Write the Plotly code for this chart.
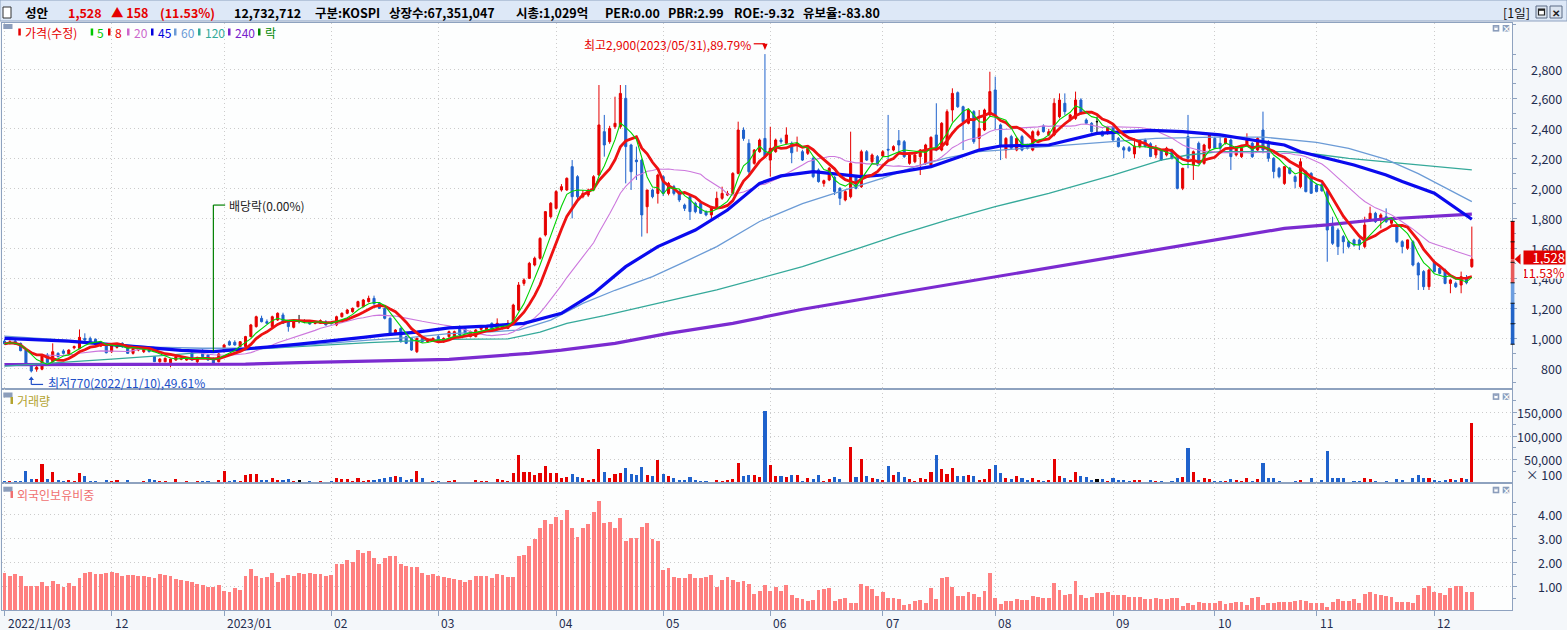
import numpy as np
import pandas as pd
import plotly.graph_objects as go

# figure / plot-area geometry (px)
W, H = 1567, 630
L, R, T, B = 2, 55, 23, 20
FONT = "Noto Sans CJK KR"
RED, BLUE, BORDER = "#e60000", "#1f62cc", "#8ea2bf"

# trading calendar (KRX holidays inside the range)
holidays = pd.to_datetime(["2022-12-30", "2023-01-23", "2023-01-24", "2023-03-01",
                           "2023-05-01", "2023-05-05", "2023-05-29", "2023-06-06",
                           "2023-08-15", "2023-09-28", "2023-09-29", "2023-10-02",
                           "2023-10-03", "2023-10-09"])
dates = [d for d in pd.bdate_range("2022-11-03", "2023-12-12") if d not in holidays]
exdiv_date = "2022-12-28"

open_ = [980, 965, 980, 965, 920, 820, 792, 792, 887, 842,
         898, 914, 894, 935, 931, 998, 998, 992, 947, 954,
         909, 938, 965, 947, 898, 920, 909, 936, 876, 842,
         842, 836, 853, 858, 853, 902, 842, 916, 887, 865,
         842, 909, 976, 972, 943, 943, 1010, 1077, 1132, 1110,
         1077, 1121, 1155, 1110, 1072, 1117, 1110, 1110, 1098, 1099,
         1110, 1103, 1088, 1143, 1166, 1177, 1210, 1210, 1244, 1266,
         1233, 1199, 1132, 1032, 1065, 1010, 998, 909, 998, 976,
         987, 1010, 976, 1010, 1010, 1076, 1065, 1010, 1010, 1059,
         1054, 1099, 1059, 1065, 1065, 1099, 1188, 1366, 1400, 1489,
         1534, 1690, 1812, 1868, 1991, 1991, 2147, 2080, 1946, 1957,
         1991, 2091, 2381, 2314, 2414, 2414, 2604, 2292, 2191, 2191,
         1879, 1991, 1968, 2080, 1968, 2013, 1980, 1890, 1946, 1902,
         1902, 1846, 1824, 1879, 1935, 1957, 1968, 2102, 2392, 2303,
         2169, 2247, 2336, 2191, 2247, 2325, 2303, 2303, 2292, 2247,
         2236, 2203, 2125, 2035, 2058, 2076, 2002, 1924, 1946, 2080,
         2013, 2247, 2180, 2214, 2218, 2263, 2258, 2321, 2314, 2169,
         2180, 2214, 2169, 2158, 2359, 2258, 2292, 2526, 2642, 2548,
         2437, 2515, 2336, 2392, 2493, 2660, 2426, 2258, 2348, 2258,
         2348, 2292, 2258, 2359, 2419, 2359, 2359, 2481, 2571, 2459,
         2470, 2593, 2459, 2437, 2448, 2381, 2370, 2414, 2336, 2274,
         2274, 2232, 2281, 2325, 2300, 2225, 2258, 2225, 2258, 2203,
         2002, 2348, 2158, 2303, 2169, 2270, 2336, 2303, 2303, 2325,
         2225, 2214, 2292, 2303, 2258, 2392, 2314, 2203, 2136, 2035,
         2136, 2080, 2013, 2114, 2102, 2024, 2029, 1980, 1746, 1723,
         1679, 1645, 1657, 1657, 1612, 1790, 1835, 1790, 1812, 1768,
         1746, 1645, 1601, 1645, 1500, 1445, 1344, 1511, 1467, 1456,
         1366, 1366, 1355, 1400, 1478]
high = [992, 985, 988, 970, 925, 830, 815, 890, 900, 965,
        905, 925, 925, 950, 1058, 1032, 1010, 998, 975, 960,
        960, 965, 972, 952, 935, 935, 935, 940, 880, 865,
        870, 862, 880, 868, 870, 908, 875, 925, 895, 870,
        900, 960, 985, 985, 980, 1015, 1095, 1150, 1150, 1125,
        1150, 1172, 1170, 1115, 1115, 1155, 1125, 1118, 1115, 1125,
        1120, 1110, 1150, 1172, 1195, 1205, 1250, 1262, 1284, 1284,
        1240, 1205, 1140, 1060, 1072, 1018, 1005, 1005, 1005, 995,
        1005, 1020, 1005, 1050, 1050, 1085, 1075, 1050, 1060, 1085,
        1085, 1105, 1132, 1095, 1121, 1230, 1375, 1400, 1510, 1545,
        1675, 1850, 1910, 1990, 2030, 2075, 2191, 2090, 1991, 2000,
        2090, 2693, 2493, 2420, 2615, 2693, 2693, 2300, 2281, 2200,
        1991, 2000, 2100, 2090, 2045, 2025, 1990, 1900, 1960, 1912,
        1910, 1855, 1885, 1980, 2013, 1985, 2110, 2448, 2410, 2330,
        2265, 2335, 2900, 2414, 2335, 2340, 2410, 2315, 2348, 2260,
        2275, 2215, 2135, 2060, 2145, 2085, 2010, 1990, 2381, 2090,
        2260, 2258, 2235, 2225, 2258, 2493, 2290, 2392, 2325, 2232,
        2232, 2265, 2300, 2350, 2571, 2445, 2530, 2671, 2650, 2555,
        2535, 2525, 2526, 2535, 2782, 2749, 2435, 2345, 2360, 2345,
        2360, 2300, 2390, 2395, 2430, 2400, 2604, 2637, 2637, 2500,
        2649, 2605, 2470, 2445, 2481, 2390, 2420, 2425, 2345, 2285,
        2285, 2336, 2330, 2335, 2310, 2292, 2265, 2280, 2268, 2210,
        2140, 2493, 2255, 2315, 2300, 2365, 2348, 2348, 2345, 2335,
        2285, 2278, 2370, 2312, 2345, 2515, 2325, 2210, 2145, 2150,
        2145, 2090, 2203, 2125, 2110, 2035, 2040, 1990, 1812, 1735,
        1690, 1655, 1665, 1668, 1812, 1879, 1845, 1835, 1868, 1810,
        1755, 1655, 1660, 1655, 1510, 1455, 1465, 1520, 1478, 1465,
        1395, 1378, 1445, 1422, 1746]
low = [955, 958, 955, 912, 815, 770, 775, 785, 830, 835,
       870, 890, 885, 925, 925, 980, 970, 950, 940, 898,
       900, 930, 935, 895, 890, 912, 900, 905, 840, 835,
       838, 805, 848, 852, 848, 850, 820, 872, 850, 828,
       838, 905, 950, 950, 938, 940, 1005, 1070, 1105, 1095,
       1060, 1115, 1095, 1043, 1065, 1099, 1100, 1090, 1092, 1095,
       1085, 1090, 1080, 1138, 1160, 1170, 1205, 1205, 1238, 1225,
       1195, 1125, 1028, 1025, 970, 960, 915, 900, 970, 970,
       980, 970, 968, 1000, 1000, 1015, 1025, 1005, 1005, 1050,
       1048, 1050, 1052, 1058, 1060, 1095, 1180, 1350, 1395, 1480,
       1525, 1680, 1800, 1860, 1980, 1985, 1801, 1930, 1935, 1945,
       1985, 2085, 2214, 2300, 2400, 2400, 2035, 1991, 2058, 1679,
       1701, 1935, 1900, 1950, 1955, 1955, 1910, 1850, 1790, 1835,
       1830, 1815, 1801, 1870, 1925, 1950, 1960, 2095, 2320, 2100,
       2160, 2240, 2205, 2080, 2240, 2300, 2295, 2170, 2247, 2185,
       2225, 2070, 2040, 2013, 2050, 1957, 1890, 1915, 1935, 1995,
       2005, 2185, 2170, 2150, 2210, 2191, 2250, 2236, 2205, 2160,
       2170, 2091, 2160, 2150, 2250, 2250, 2285, 2448, 2540, 2258,
       2430, 2300, 2258, 2385, 2485, 2392, 2191, 2203, 2260, 2250,
       2250, 2262, 2250, 2350, 2375, 2350, 2350, 2470, 2493, 2450,
       2460, 2495, 2430, 2375, 2370, 2350, 2360, 2320, 2275, 2203,
       2245, 2203, 2270, 2275, 2210, 2203, 2185, 2215, 2195, 1995,
       1990, 2136, 2058, 2160, 2160, 2260, 2265, 2236, 2295, 2125,
       2215, 2205, 2285, 2205, 2250, 2236, 2180, 2069, 2069, 2025,
       2095, 2002, 2002, 1975, 1965, 1975, 1980, 1511, 1623, 1556,
       1567, 1600, 1612, 1589, 1600, 1780, 1770, 1734, 1770, 1758,
       1635, 1567, 1590, 1480, 1322, 1322, 1322, 1440, 1425, 1360,
       1300, 1335, 1300, 1360, 1470]
close = [962, 975, 960, 916, 820, 780, 805, 880, 836, 909,
         876, 898, 920, 943, 1005, 987, 976, 954, 969, 902,
         954, 960, 943, 898, 931, 927, 931, 909, 842, 860,
         865, 860, 876, 864, 865, 853, 871, 876, 853, 831,
         894, 954, 954, 954, 976, 1010, 1088, 1143, 1110, 1099,
         1143, 1166, 1099, 1077, 1110, 1117, 1110, 1094, 1106, 1117,
         1088, 1097, 1143, 1166, 1188, 1199, 1244, 1255, 1266, 1229,
         1199, 1132, 1032, 1054, 976, 965, 920, 998, 976, 992,
         998, 976, 998, 1043, 1043, 1021, 1032, 1043, 1054, 1076,
         1076, 1059, 1099, 1088, 1099, 1221, 1355, 1389, 1500, 1534,
         1667, 1846, 1902, 1980, 2013, 2069, 1946, 1946, 1968, 1991,
         2080, 2426, 2292, 2403, 2437, 2637, 2281, 2113, 2180, 1824,
         1991, 1946, 2091, 1968, 2035, 1968, 1924, 1868, 1846, 1846,
         1835, 1824, 1879, 1935, 1968, 1968, 2102, 2392, 2336, 2113,
         2258, 2325, 2214, 2270, 2325, 2314, 2359, 2240, 2303, 2191,
         2270, 2080, 2047, 2053, 2136, 1980, 1935, 1980, 2169, 2002,
         2247, 2191, 2225, 2158, 2247, 2258, 2281, 2292, 2214, 2225,
         2225, 2258, 2292, 2343, 2258, 2437, 2515, 2637, 2548, 2448,
         2526, 2314, 2403, 2526, 2649, 2493, 2281, 2336, 2270, 2336,
         2258, 2270, 2381, 2381, 2381, 2381, 2571, 2593, 2515, 2493,
         2593, 2504, 2437, 2381, 2448, 2352, 2414, 2325, 2281, 2258,
         2254, 2285, 2325, 2281, 2215, 2270, 2191, 2270, 2203, 2002,
         2136, 2203, 2247, 2169, 2292, 2359, 2270, 2270, 2336, 2214,
         2281, 2270, 2325, 2214, 2336, 2258, 2203, 2114, 2080, 2147,
         2102, 2047, 2180, 1980, 1969, 1980, 1985, 1723, 1634, 1612,
         1645, 1612, 1623, 1623, 1757, 1835, 1779, 1824, 1779, 1801,
         1645, 1612, 1657, 1489, 1422, 1344, 1456, 1445, 1433, 1366,
         1389, 1344, 1411, 1370, 1528]
# volume in units of 100 shares
volume = [4800, 4800, 4800, 4800, 27000, 10000, 8800, 41000, 10000, 25000,
          6800, 4800, 6800, 4800, 21000, 15000, 4800, 4800, 2700, 6800,
          4800, 6800, 2000, 6800, 2700, 2700, 4800, 8800, 6800, 4800,
          4800, 2000, 8800, 2700, 4800, 2700, 4800, 4800, 4800, 2700,
          6800, 27000, 4800, 6800, 4800, 17000, 19000, 19000, 6800, 6800,
          11000, 6800, 6800, 8800, 4100, 6100, 2000, 4100, 2700, 4100,
          2700, 4100, 11000, 8800, 8800, 4100, 11000, 5400, 6800, 6800,
          8800, 11000, 13000, 15000, 13000, 6800, 8800, 27000, 11000, 2700,
          4100, 4100, 2700, 4100, 6800, 2700, 2700, 2700, 6800, 4800,
          4800, 2700, 8800, 6100, 4800, 21000, 60000, 23000, 23000, 17000,
          21000, 37000, 21000, 21000, 11000, 13000, 19000, 13000, 11000, 6800,
          8800, 72000, 25000, 11000, 19000, 21000, 33000, 19000, 17000, 35000,
          17000, 15000, 50000, 19000, 15000, 11000, 6800, 6800, 13000, 6800,
          4800, 4800, 2700, 6800, 4800, 6800, 8800, 43000, 15000, 17000,
          17000, 13000, 154000, 39000, 15000, 15000, 13000, 17000, 17000, 4800,
          11000, 8800, 17000, 4800, 8800, 13000, 8800, 2700, 78000, 13000,
          52000, 15000, 11000, 8800, 6800, 37000, 17000, 23000, 13000, 8800,
          4800, 11000, 8800, 25000, 60000, 31000, 19000, 33000, 15000, 15000,
          17000, 15000, 6800, 8800, 31000, 39000, 21000, 11000, 8800, 15000,
          11000, 6800, 11000, 6800, 4800, 6800, 52000, 15000, 11000, 6800,
          25000, 15000, 13000, 6800, 8800, 8800, 4800, 11000, 6800, 6800,
          4800, 6800, 6800, 2700, 6800, 4800, 4800, 2700, 4800, 11000,
          13000, 74000, 23000, 6800, 11000, 8800, 4800, 4800, 4800, 8800,
          6800, 4800, 11000, 4800, 8800, 43000, 11000, 11000, 4800, 2700,
          2700, 4800, 6800, 2700, 10400, 2600, 6500, 69000, 12300, 10400,
          10400, 2600, 4500, 4500, 12300, 8400, 4500, 2600, 4500, 2600,
          8400, 6500, 2600, 10400, 18000, 10400, 10400, 6500, 4500, 6500,
          8400, 6500, 10400, 8400, 127327]
# foreign ownership ratio (%)
foreign = [1.52, 1.40, 1.48, 1.40, 0.98, 0.98, 0.98, 1.15, 0.98, 1.19,
           1.06, 0.94, 1.10, 0.98, 1.34, 1.52, 1.57, 1.48, 1.48, 1.52,
           1.57, 1.52, 1.40, 1.44, 1.44, 1.40, 1.40, 1.36, 1.31, 1.48,
           1.44, 1.40, 1.27, 1.23, 1.19, 1.15, 1.06, 1.02, 0.94, 0.94,
           1.02, 0.77, 0.73, 0.90, 0.81, 1.40, 1.69, 1.40, 1.31, 1.36,
           1.52, 1.15, 1.31, 1.44, 1.40, 1.52, 1.48, 1.52, 1.48, 1.48,
           1.40, 1.44, 1.90, 1.90, 2.07, 1.99, 2.49, 2.36, 2.45, 2.15,
           1.90, 2.15, 2.24, 2.24, 1.90, 1.82, 1.78, 1.78, 1.52, 1.44,
           1.48, 1.40, 1.36, 1.31, 1.27, 1.23, 1.15, 1.23, 1.40, 1.40,
           1.40, 1.31, 1.48, 1.44, 1.36, 1.36, 2.24, 2.28, 2.66, 2.95,
           3.41, 3.75, 3.58, 3.87, 3.75, 4.17, 3.41, 3.03, 3.41, 3.58,
           4.08, 4.55, 3.62, 3.66, 3.41, 3.83, 2.87, 2.99, 2.99, 3.45,
           3.62, 2.95, 2.87, 1.65, 1.73, 1.36, 1.31, 1.31, 1.48, 1.31,
           1.31, 1.36, 1.44, 0.94, 1.23, 1.36, 1.23, 1.15, 1.19, 1.06,
           0.64, 0.77, 1.02, 0.77, 0.94, 0.77, 1.02, 0.60, 0.48, 0.43,
           0.35, 0.39, 0.81, 0.85, 0.90, 0.35, 0.43, 0.48, 0.27, 0.27,
           1.06, 0.98, 0.85, 0.56, 0.73, 0.48, 0.48, 0.43, 0.18, 0.22,
           0.35, 0.39, 0.27, 0.90, 0.43, 1.31, 1.36, 0.94, 0.56, 0.56,
           0.73, 0.64, 0.52, 0.77, 1.52, 0.48, 0.22, 0.35, 0.35, 0.43,
           0.39, 0.39, 0.56, 0.52, 0.48, 0.48, 1.10, 0.81, 0.60, 0.64,
           1.19, 0.60, 0.48, 0.52, 0.69, 0.69, 0.73, 0.60, 0.60, 0.60,
           0.52, 0.52, 0.52, 0.43, 0.43, 0.48, 0.43, 0.43, 0.48, 0.48,
           0.14, 0.27, 0.18, 0.31, 0.27, 0.27, 0.27, 0.35, 0.22, 0.27,
           0.31, 0.31, 0.18, 0.48, 0.52, 0.18, 0.27, 0.27, 0.31, 0.31,
           0.31, 0.35, 0.39, 0.35, 0.26, 0.26, 0.26, 0.10, 0.31, 0.43,
           0.35, 0.35, 0.43, 0.26, 0.64, 0.76, 0.64, 0.60, 0.56, 0.51,
           0.31, 0.31, 0.31, 0.26, 0.60, 0.89, 1.01, 0.72, 0.68, 0.60,
           0.89, 0.97, 0.97, 0.76, 0.76]

# long moving averages as (bar index, value) knots
ma45_knots = [(0, 998), (12, 980), (24, 945), (33, 918), (39, 909), (45, 925), (49, 940),
              (55, 960), (61, 985), (67, 1005), (71, 1021), (77, 1040), (83, 1068), (90, 1080),
              (97, 1099), (104, 1166), (110, 1299), (116, 1478), (122, 1612), (129, 1723),
              (135, 1857), (141, 2035), (145, 2085), (151, 2113), (160, 2080), (164, 2091),
              (173, 2147), (182, 2258), (186, 2285), (195, 2292), (204, 2370), (214, 2390),
              (220, 2381), (227, 2359), (233, 2325), (239, 2292), (242, 2247), (248, 2191),
              (252, 2158), (258, 2091), (261, 2047), (267, 1969), (274, 1795)]
ma60_knots = [(0, 1013), (10, 990), (18, 965), (28, 940), (37, 932), (49, 932), (58, 958),
              (68, 987), (76, 1005), (83, 1030), (90, 1040), (96, 1054), (102, 1120), (108, 1232),
              (114, 1320), (121, 1411), (127, 1510), (133, 1612), (141, 1780), (149, 1900),
              (157, 1991), (164, 2070), (170, 2147), (176, 2205), (182, 2247), (195, 2281),
              (207, 2314), (215, 2336), (226, 2345), (235, 2345), (245, 2310), (251, 2270),
              (258, 2195), (264, 2100), (274, 1913)]
ma120_knots = [(0, 813), (10, 835), (20, 860), (30, 885), (37, 905), (46, 925), (55, 942),
               (68, 970), (83, 992), (94, 995), (100, 1040), (105, 1099), (112, 1150), (119, 1210),
               (126, 1265), (133, 1322), (141, 1400), (149, 1478), (159, 1596), (167, 1690),
               (176, 1790), (185, 1880), (195, 1968), (207, 2091), (216, 2191), (221, 2225),
               (227, 2247), (239, 2247), (245, 2230), (251, 2203), (262, 2165), (274, 2125)]
ma240_knots = [(0, 822), (45, 826), (55, 836), (68, 845), (83, 858), (98, 898), (104, 920),
               (114, 965), (124, 1032), (136, 1099), (149, 1193), (165, 1290), (180, 1380),
               (200, 1500), (214, 1583), (226, 1656), (239, 1734), (247, 1757), (257, 1795),
               (274, 1830)]

price_ticks = list(range(800, 2801, 200))
volume_ticks = [50000, 100000, 150000]
foreign_ticks = [1, 2, 3, 4]

n = len(close)
idx = np.arange(n)
dates = dates[:n]


def xp(px):
    return (px - L) / (W - L - R)


def yp(py):
    return (H - B - py) / (H - T - B)


y_price = [yp(389), 1.0]
y_vol = [yp(483.3), yp(389)]
y_for = [0.0, yp(483.3)]

o, c = np.array(open_), np.array(close)
flat = o == c
mo = [None if f else v for f, v in zip(flat, open_)]

fig = go.Figure()
fig.add_trace(go.Candlestick(
    x=idx, open=mo, high=high, low=low, close=close, whiskerwidth=0,
    increasing=dict(line=dict(color=RED, width=1), fillcolor=RED),
    decreasing=dict(line=dict(color=BLUE, width=1), fillcolor=BLUE),
    xaxis="x", yaxis="y", hoverinfo="skip"))
fig.add_trace(go.Candlestick(
    x=idx[flat], open=o[flat], high=np.array(high)[flat], low=np.array(low)[flat],
    close=c[flat], whiskerwidth=0,
    increasing=dict(line=dict(color="#000000", width=1), fillcolor="#000000"),
    decreasing=dict(line=dict(color="#000000", width=1), fillcolor="#000000"),
    xaxis="x", yaxis="y", hoverinfo="skip"))

s = pd.Series(close, dtype=float)
ma = {k: s.rolling(k, min_periods=1).mean() for k in (5, 8, 20)}


def knots(kn):
    return [k[0] for k in kn], [k[1] for k in kn]


lines = [(knots(ma240_knots), "#7b2bd0", 3.2),
         (knots(ma120_knots), "#35a99a", 1.3),
         (knots(ma60_knots), "#6b9bd6", 1.3),
         ((idx, ma[20]), "#cc77dd", 1.1),
         (knots(ma45_knots), "#0a0aee", 3.2),
         ((idx, ma[8]), "#ee1111", 2.8),
         ((idx, ma[5]), "#00d200", 1.1)]
for (lx, ly), col, w in lines:
    fig.add_trace(go.Scatter(x=lx, y=ly, mode="lines", line=dict(color=col, width=w),
                             xaxis="x", yaxis="y", hoverinfo="skip"))

vcol = np.where(flat, "#000000", np.where(c > o, RED, BLUE))
fig.add_trace(go.Bar(x=idx, y=volume, marker=dict(color=vcol, line=dict(width=0)),
                     width=0.58, xaxis="x2", yaxis="y2", hoverinfo="skip"))
fig.add_trace(go.Bar(x=idx, y=foreign, marker=dict(color="#ff8080", line=dict(width=0)),
                     width=0.72, xaxis="x3", yaxis="y3", hoverinfo="skip"))

# month ticks
month_idx, month_lab = [], []
for i, d in enumerate(dates):
    if i == 0:
        month_idx.append(0)
        month_lab.append(d.strftime("%Y/%m/%d"))
    elif d.month != dates[i - 1].month:
        month_idx.append(i)
        month_lab.append(d.strftime("%Y/%m") if d.year != dates[i - 1].year else d.strftime("%m"))

grid = dict(showgrid=True, gridcolor="#cccccc", griddash="1px,3px", zeroline=False,
            showline=True, linecolor=BORDER, linewidth=1, mirror=True)
xr = [-0.47, 281.5]
xcommon = dict(range=xr, tickvals=month_idx, showticklabels=False, fixedrange=True, **grid)
ycommon = dict(side="right", showticklabels=False, ticks="outside", ticklen=4,
               tickcolor=BORDER, fixedrange=True, **grid)

fig.update_layout(
    width=W, height=H, margin=dict(l=L, r=R, t=T, b=B),
    paper_bgcolor="#f4f7fa", plot_bgcolor="#fdfefe",
    showlegend=False, boxgap=0.45, bargap=0,
    font=dict(family=FONT, size=12, color="#1f2d4f"),
    xaxis=dict(anchor="y", domain=[0, 1], rangeslider=dict(visible=False), ticks="", **xcommon),
    xaxis2=dict(anchor="y2", domain=[0, 1], matches="x", ticks="", **xcommon),
    xaxis3=dict(anchor="y3", domain=[0, 1], matches="x", ticks="outside", ticklen=5,
                tickcolor=BORDER, **xcommon),
    yaxis=dict(domain=y_price, range=[659.5, 3108], tickvals=price_ticks,
               minor=dict(tickvals=list(range(700, 3101, 200)), ticks="outside", ticklen=3,
                          tickcolor=BORDER, showgrid=False), **ycommon),
    yaxis2=dict(domain=y_vol, range=[0, 200000], tickvals=volume_ticks,
                minor=dict(tickvals=[25000, 75000, 125000, 175000], ticks="outside", ticklen=3,
                           tickcolor=BORDER, showgrid=False), **ycommon),
    yaxis3=dict(domain=y_for, range=[0, 5.29], tickvals=foreign_ticks,
                minor=dict(tickvals=[0.5, 1.5, 2.5, 3.5, 4.5], ticks="outside", ticklen=3,
                           tickcolor=BORDER, showgrid=False), **ycommon),
)

shapes, ann = [], []


def rect(x0, y0, x1, y1, fill, line=None, lw=1):
    shapes.append(dict(type="rect", xref="paper", yref="paper", x0=xp(x0), x1=xp(x1),
                       y0=yp(y1), y1=yp(y0), fillcolor=fill, layer="above",
                       line=dict(color=line or fill, width=lw if line else 0)))


def text(px, py, s, color="#1f2d4f", size=12, anchor="left", **kw):
    ann.append(dict(xref="paper", yref="paper", x=xp(px), y=yp(py), text=s, showarrow=False,
                    xanchor=anchor, yanchor="middle", font=dict(color=color, size=size, family=FONT),
                    **kw))


# header band
rect(0, 0, W, 21, "#dde8f7", BORDER)
rect(3, 7, 11, 18, "#ffffff", "#333333")
header = [(23, "성안", "#000000"), (66, "1,528", RED), (109, "▲ 158", RED), (158, "(11.53%)", RED),
          (232, "12,732,712", "#000000"), (313, "구분:KOSPI", "#000000"),
          (387, "상장수:67,351,047", "#000000"), (514, "시총:1,029억", "#000000"),
          (603, "PER:0.00", "#000000"), (666, "PBR:2.99", "#000000"),
          (732, "ROE:-9.32", "#000000"), (801, "유보율:-83.80", "#000000")]
for hx, hs, hc in header:
    text(hx, 12.5, "<b>%s</b>" % hs, hc, 12.5)
text(1501, 12.5, "[1일]", "#111111", 12.5)
rect(1536, 6, 1547, 18, "#dbe4f0", "#5b6b84")
rect(1538.5, 9, 1544.5, 15, "#ffffff", "#222222", 1.2)
rect(1538.5, 9, 1544.5, 10.8, "#222222")
rect(1550, 6, 1562, 18, "#dbe4f0", "#5b6b84")
text(1556, 12.3, "<b>✕</b>", "#222222", 10, "center")

# panel corner widgets
for y0 in (24, 392.5, 486.7):
    rect(3.3, y0, 12.5, y0 + 5, "#8b9dbb")
for y0 in (25, 393.3, 486.7):
    rect(1492.7, y0, 1499.3, y0 + 6.6, "#8b9dbb")
    rect(1494.3, y0 + 1.6, 1497.7, y0 + 5, "#ffffff")
    rect(1494.3, y0 + 1.6, 1497.7, y0 + 2.6, "#8b9dbb")
    rect(1502.7, y0, 1509.3, y0 + 6.6, "#8b9dbb")
    text(1506, y0 + 3.4, "<b>×</b>", "#ffffff", 9, "center")

# legend row
legend = [(18.3, "가격(수정)", RED), (90.7, "5", "#00c800"), (108, "8", RED),
          (127, "20", "#cc66cc"), (151, "45", "#0000dd"), (174, "60", "#6b9bd6"),
          (198, "120", "#33aa99"), (228, "240", "#7722cc"), (258, "락", "#008800")]
for lx, ls, lc in legend:
    rect(lx, 28.5, lx + 2.5, 35.5, lc)
    text(lx + 4.5, 32.3, ls, lc, 12)

text(15, 400.5, "거래량", "#b3a32e", 12)
rect(10.5, 397, 13, 404, "#b3a32e")
text(15, 494.5, "외국인보유비중", "#f07070", 12)
rect(10.5, 491, 13, 498, "#f07070")

# right-hand tick labels
for v in price_ticks:
    ann.append(dict(xref="paper", yref="y", x=xp(1564), y=v, text=f"{v:,}", showarrow=False,
                    xanchor="right", yanchor="middle", font=dict(size=12.5, color="#1f2d4f")))
for v in volume_ticks:
    ann.append(dict(xref="paper", yref="y2", x=xp(1564), y=v, text=f"{v:,}", showarrow=False,
                    xanchor="right", yanchor="middle", font=dict(size=12.5, color="#1f2d4f")))
text(1564, 475, "× 100", "#1f2d4f", 12.5, "right")
for v in foreign_ticks:
    ann.append(dict(xref="paper", yref="y3", x=xp(1564), y=v, text=f"{v:.2f}", showarrow=False,
                    xanchor="right", yanchor="middle", font=dict(size=12.5, color="#1f2d4f")))

# month labels under the chart
for mi, ml in zip(month_idx, month_lab):
    ann.append(dict(xref="x3", yref="paper", x=mi, y=yp(622), text=ml, showarrow=False,
                    xanchor="left", yanchor="middle", xshift=1, font=dict(size=12, color="#1f2d4f")))

# price-limit bar at the axis
last, prev = close[-1], close[-2]
lim_up, lim_dn = prev * 1.3, prev * 0.7
for y0, y1, col in [(last, lim_up, "#e00000"), (prev, last, "#e85a5a"),
                    (prev * 0.9, prev, "#6c9ee0"), (lim_dn, prev * 0.9, "#2264c8")]:
    shapes.append(dict(type="rect", xref="paper", yref="y", x0=xp(1510.8), x1=xp(1514.4),
                       y0=y0, y1=y1, fillcolor=col, line=dict(width=0), layer="above"))
for k in range(-3, 4):
    shapes.append(dict(type="line", xref="paper", yref="y", x0=xp(1510.5), x1=xp(1514.7),
                       y0=prev * (1 + k / 10), y1=prev * (1 + k / 10),
                       line=dict(color="#111111", width=1), layer="above"))
shapes.append(dict(type="path", xref="paper", yref="y", fillcolor="#e00000", line=dict(width=0),
                   path=f"M {xp(1514.6)},{last} L {xp(1520.5)},{last + 36} L {xp(1520.5)},{last - 36} Z"))
ann.append(dict(xref="paper", yref="y", x=xp(1523), y=last + 9, text=f"{last:,}", showarrow=False,
                xanchor="left", yanchor="middle", width=41, height=13, align="right",
                bgcolor="#e00000", borderpad=0, font=dict(size=13, color="#ffffff")))
pct = (last - prev) / prev * 100
ann.append(dict(xref="paper", yref="y", x=xp(1523), y=last - 86, text=f"{pct:.2f}%", showarrow=False,
                xanchor="left", yanchor="middle", width=41, height=12, align="right",
                bgcolor="#ffffff", borderpad=0, font=dict(size=12.5, color="#e00000")))

# highest / lowest / ex-dividend markers
ihi, ilo = int(np.argmax(high)), int(np.argmin(low))
hi, lo = high[ihi], low[ilo]
shapes.append(dict(type="line", xref="x", yref="y", x0=ihi - 2.1, x1=ihi, y0=hi + 69, y1=hi + 69,
                   line=dict(color=RED, width=1.2)))
shapes.append(dict(type="path", xref="x", yref="y", fillcolor=RED, line=dict(width=0),
                   path=f"M {ihi - 0.5},{hi + 69} L {ihi + 0.5},{hi + 69} L {ihi},{hi + 28} Z"))
ann.append(dict(xref="x", yref="y", x=ihi - 2.2, y=hi + 62, showarrow=False, xanchor="right",
                yanchor="middle", font=dict(size=12, color=RED),
                text=f"최고{hi:,}({dates[ihi]:%Y/%m/%d}),{(hi - last) / last * 100:.2f}%"))

shapes.append(dict(type="line", xref="x", yref="y", x0=ilo, x1=ilo, y0=lo - 80, y1=lo - 45,
                   line=dict(color="#2050c8", width=1.2)))
shapes.append(dict(type="line", xref="x", yref="y", x0=ilo, x1=ilo + 2.2, y0=lo - 80, y1=lo - 80,
                   line=dict(color="#2050c8", width=1.2)))
shapes.append(dict(type="path", xref="x", yref="y", fillcolor="#2050c8", line=dict(width=0),
                   path=f"M {ilo - 0.5},{lo - 50} L {ilo + 0.5},{lo - 50} L {ilo},{lo - 27} Z"))
ann.append(dict(xref="x", yref="y", x=ilo + 2.7, y=lo - 70, showarrow=False, xanchor="left",
                yanchor="middle", font=dict(size=12, color="#2050c8"),
                text=f"최저{lo:,}({dates[ilo]:%Y/%m/%d}),{(last - lo) / last * 100:.2f}%"))

iex = [i for i, d in enumerate(dates) if d == pd.Timestamp(exdiv_date)][0]
shapes.append(dict(type="line", xref="x", yref="y", x0=iex, x1=iex, y0=high[iex] + 40, y1=1890,
                   line=dict(color="#008000", width=1.2)))
shapes.append(dict(type="line", xref="x", yref="y", x0=iex, x1=iex + 2.2, y0=1890, y1=1890,
                   line=dict(color="#008000", width=1.2)))
ann.append(dict(xref="x", yref="y", x=iex + 2.6, y=1890, showarrow=False, xanchor="left",
                yanchor="middle", font=dict(size=12, color="#222222"), text="배당락(0.00%)"))

fig.update_layout(shapes=shapes, annotations=ann)
# the page's default body margin would push the fixed-size figure off the window
fig.write_html("out.html", config=dict(displayModeBar=False),
               post_script="document.body.style.margin='0';document.body.style.overflow='hidden';")
